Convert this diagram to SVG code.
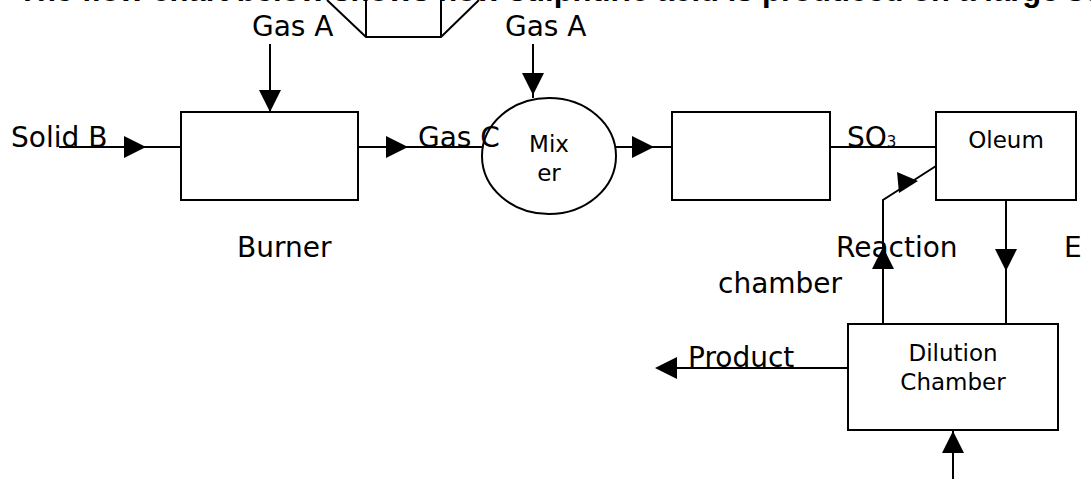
<svg xmlns="http://www.w3.org/2000/svg" width="1091" height="479" viewBox="0 0 1091 479">
<style>
.ln{stroke:#000;stroke-width:2;fill:none}
.box{stroke:#000;stroke-width:2;fill:#fff}
.ah{fill:#000;stroke:none}
.lbl{font-family:"DejaVu Sans",sans-serif;font-size:28px;fill:#000}
.in{font-family:"DejaVu Sans",sans-serif;font-size:23px;fill:#000;text-anchor:middle}
.title{font-family:"Liberation Sans",sans-serif;font-weight:bold;font-size:31px;fill:#000}
</style>
<rect width="1091" height="479" fill="#fff"/>
<text class="title" x="18" y="1">The flow chart below shows how sulphuric acid is produced on a large scale.</text>

<g id="hopper">
<path class="ln" d="M327,0 L366,37 L441,37 L479,0 M366,0 V37 M441,0 V37"/>
</g>
<g id="burner">
<rect class="box" x="181" y="112" width="177" height="88"/>
<text class="lbl" x="237" y="257">Burner</text>
</g>
<g id="mixer">
<ellipse class="box" cx="549" cy="156" rx="67" ry="58"/>
<text class="in" x="549" y="152">Mix</text>
<text class="in" x="549" y="181">er</text>
</g>
<g id="reaction-chamber">
<rect class="box" x="672" y="112" width="158" height="88"/>
<text class="lbl" x="836" y="257">Reaction</text>
<text class="lbl" x="718" y="293">chamber</text>
</g>
<g id="oleum">
<rect class="box" x="936" y="112" width="140" height="88"/>
<text class="in" x="1006" y="148">Oleum</text>
</g>
<g id="dilution">
<rect class="box" x="848" y="324" width="210" height="106"/>
<text class="in" x="953" y="361">Dilution</text>
<text class="in" x="953" y="390">Chamber</text>
</g>

<g id="connectors">
<path class="ln" d="M270,44 V112"/>
<polygon class="ah" points="259,90 281,90 270,112"/>
<path class="ln" d="M533,44 V98"/>
<polygon class="ah" points="522,73 544,73 533,95"/>
<path class="ln" d="M59,147 H181"/>
<polygon class="ah" points="124,136 124,158 146,147"/>
<path class="ln" d="M358,147 H482"/>
<polygon class="ah" points="386,136 386,158 408,147"/>
<path class="ln" d="M616,147 H672"/>
<polygon class="ah" points="632,136 632,158 654,147"/>
<path class="ln" d="M830,147 H936"/>
<path class="ln" d="M936,166 L883,200 V324"/>
<polygon class="ah" points="872,269 894,269 883,247"/>
<polygon class="ah" points="897,172 899,193 918,181"/>
<path class="ln" d="M1006,200 V324"/>
<polygon class="ah" points="995,249 1017,249 1006,271"/>
<path class="ln" d="M848,368 H657"/>
<polygon class="ah" points="677,357 677,379 655,368"/>
<path class="ln" d="M953,479 V431"/>
<polygon class="ah" points="942,453 964,453 953,431"/>
</g>

<g id="labels">
<text class="lbl" x="252" y="36">Gas A</text>
<text class="lbl" x="505" y="36">Gas A</text>
<text class="lbl" x="11" y="147">Solid B</text>
<text class="lbl" x="418" y="147">Gas C</text>
<text class="lbl" x="847" y="147">SO<tspan font-size="15">3</tspan></text>
<text class="lbl" x="1064" y="257">E</text>
<text class="lbl" x="688" y="367">Product</text>
</g>
</svg>
